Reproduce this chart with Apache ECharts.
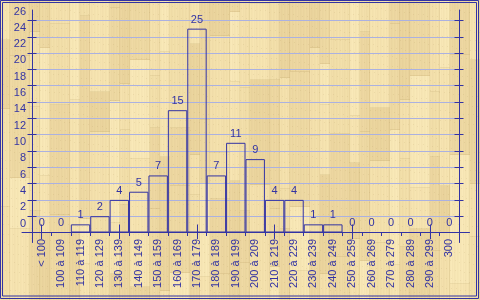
<!DOCTYPE html>
<html>
<head>
<meta charset="utf-8">
<script src="https://cdn.jsdelivr.net/npm/echarts@6/dist/echarts.min.js"></script>
<style>
html,body{margin:0;padding:0;}
#chart{width:480px;height:300px;background:#f1dca6;}
</style>
</head>
<body>
<div id="chart"></div>
<script>
// ---- data ----
const categories = ['< 100','100 à 109','110 à 119','120 à 129','130 à 139','140 à 149','150 à 159','160 à 169','170 à 179','180 à 189','190 à 199','200 à 209','210 à 219','220 à 229','230 à 239','240 à 249','250 à 259','260 à 269','270 à 279','280 à 289','290 à 299','300'];
const counts = [0,0,1,2,4,5,7,15,25,7,11,9,4,4,1,1,0,0,0,0,0,0];
const yMin = 0;
const yMax = 26;
const yStep = 2;

// ---- decorative wood background (not data) ----
function makeWood(){
  const c=document.createElement('canvas'); c.width=480; c.height=300;
  const g=c.getContext('2d');
  const shades=['#f7e5b2','#efdaa4','#f3e0ab','#ecd69f','#f9e9b8','#eed8a2','#f5e2ae'];
  let x=0, col=0;
  while(x<480){
    const w = (col%3===1)?20:10;
    let y = -((col*37)%60), seg=0;
    while(y<300){
      const len = 40 + ((col*53+seg*29)%100);
      g.fillStyle = shades[(col*5+seg*3)%shades.length];
      g.fillRect(x,y,w,len);
      g.fillStyle='rgba(170,140,80,0.15)';
      g.fillRect(x,y+len-1,w,1);
      y+=len; seg++;
    }
    g.fillStyle='rgba(190,160,100,0.18)';
    g.fillRect(x+w-1,0,1,300);
    x+=w; col++;
  }
  for(let i=0;i<480;i++){
    const a=((i*73)%11)/11*0.06;
    g.fillStyle='rgba(160,130,70,'+a.toFixed(3)+')';
    g.fillRect(i,0,1,300);
  }
  for(let j=0;j<300;j+=2){
    for(let i=(j*7)%5;i<480;i+=5){
      if(((i*31+j*17)%13)<3){ g.fillStyle='rgba(150,120,60,0.10)'; g.fillRect(i,j,1,1); }
    }
  }
  return c.toDataURL();
}
document.getElementById('chart').style.backgroundImage='url('+makeWood()+')';

const BLUE='#3333a3';
const GRID='#abb1e0';
const FONT='"Liberation Sans", Arial, sans-serif';

const chart = echarts.init(document.getElementById('chart'), null, {renderer:'canvas'});

function catAxis(extra){
  return Object.assign({type:'category', data:categories, gridIndex:0, boundaryGap:true,
    axisLine:{show:false}, axisLabel:{show:false}, splitLine:{show:false},
    axisTick:{show:false}}, extra);
}
function valAxis(extra){
  return Object.assign({type:'value', gridIndex:0, min:yMin, max:yMax, interval:yStep,
    axisLine:{show:false}, axisLabel:{show:false}, splitLine:{show:false},
    axisTick:{show:false}}, extra);
}

chart.setOption({
  animation:false,
  backgroundColor:'transparent',
  graphic:[
    {type:'rect', shape:{x:0.5,y:0.5,width:478,height:298}, style:{fill:'none',stroke:BLUE,lineWidth:1}, silent:true},
    {type:'rect', shape:{x:2.5,y:2.5,width:474,height:293.5}, style:{fill:'none',stroke:BLUE,lineWidth:1}, silent:true}
  ],
  grid:[
    {left:32, right:21, top:20.5, bottom:67.5},
    {left:32, right:21, top:10, bottom:57.5},
    {left:22, right:10.5, top:20.5, bottom:67.5},
    {left:32, right:21, top:11.5, bottom:76.5}
  ],
  xAxis:[
    catAxis({axisTick:{show:true, length:3.5, lineStyle:{color:BLUE}},
      axisLabel:{show:true, rotate:90, interval:0, margin:6.5, color:BLUE, fontSize:11, fontFamily:FONT}}),
    catAxis({axisTick:{show:true, inside:true, length:3.5, lineStyle:{color:BLUE}}}),
    catAxis({axisTick:{show:true, alignWithLabel:true, length:8, lineStyle:{color:BLUE}}}),
    catAxis({axisTick:{show:true, alignWithLabel:true, inside:true, length:6.5, lineStyle:{color:BLUE}}}),
    catAxis({gridIndex:1, show:false}),
    catAxis({gridIndex:2, z:5, axisLine:{show:true, lineStyle:{color:BLUE, width:1}}}),
    catAxis({gridIndex:3, show:false})
  ],
  yAxis:[
    valAxis({position:'left', axisTick:{show:true, length:4.5, lineStyle:{color:BLUE}},
      splitLine:{show:true, lineStyle:{color:GRID, width:1}}}),
    valAxis({position:'left', axisTick:{show:true, inside:true, length:4.5, lineStyle:{color:BLUE}}}),
    valAxis({position:'right', axisTick:{show:true, length:4.5, lineStyle:{color:BLUE}}}),
    valAxis({position:'right', axisTick:{show:true, inside:true, length:4.5, lineStyle:{color:BLUE}}}),
    valAxis({gridIndex:1, min:0, max:1, interval:1, position:'left', z:5, axisLine:{show:true, lineStyle:{color:BLUE, width:1}}}),
    valAxis({gridIndex:1, min:0, max:1, interval:1, position:'right', z:5, axisLine:{show:true, lineStyle:{color:BLUE, width:1}}}),
    valAxis({gridIndex:2, show:false}),
    valAxis({gridIndex:3, position:'left',
      axisLabel:{show:true, margin:6, color:BLUE, fontSize:11, fontFamily:FONT,
        showMinLabel:true, showMaxLabel:true}})
  ],
  series:[{
    type:'bar', xAxisIndex:0, yAxisIndex:0, data:counts,
    barCategoryGap:'0%', z:3, silent:true,
    itemStyle:{color:'rgba(0,0,0,0)', borderColor:BLUE, borderWidth:1},
    emphasis:{disabled:true},
    label:{show:true, position:'top', distance:3.5, color:BLUE, fontSize:11, fontFamily:FONT}
  }]
});
</script>
</body>
</html>
